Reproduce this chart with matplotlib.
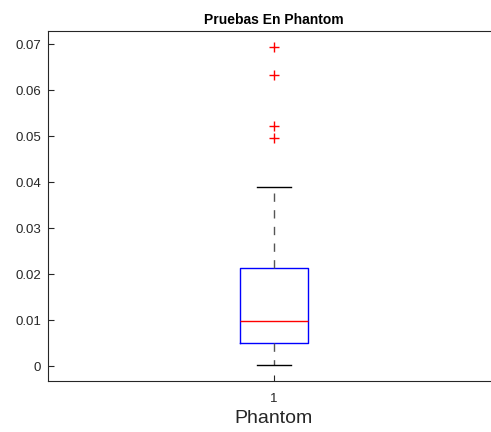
import matplotlib
matplotlib.use('Agg')
import matplotlib.pyplot as plt

plt.rcParams['font.family'] = ['Liberation Sans', 'DejaVu Sans']

# Resumen de la caja (valores ya calculados)
group_labels = ['1']
q1 = 0.0050
median = 0.0098
q3 = 0.0213
whisker_low = 0.0002
whisker_high = 0.0389
outliers = [0.0693, 0.0633, 0.0522, 0.0496]

stats = [{
    'med': median, 'q1': q1, 'q3': q3,
    'whislo': whisker_low, 'whishi': whisker_high,
    'fliers': outliers, 'label': group_labels[0],
}]

fig = plt.figure(figsize=(4.91, 4.32), dpi=100)
ax = fig.add_axes([48 / 491, 51 / 432, 452 / 491, 350 / 432])

ax.bxp(stats, positions=[1], widths=0.15, showfliers=True,
       boxprops=dict(color='#0000ff', linewidth=1.0),
       medianprops=dict(color='#ff0000', linewidth=1.0),
       whiskerprops=dict(color='#555555', linewidth=1.0, linestyle=(0, (6, 6))),
       capprops=dict(color='black', linewidth=1.0),
       flierprops=dict(marker='+', markeredgecolor='#ff0000', markersize=6.5,
                       markeredgewidth=1.0, linestyle='none'),
       capwidths=0.075)

ax.set_xlim(0.5, 1.5)
ax.set_ylim(-0.00326, 0.07283)
ax.set_yticks([0, 0.01, 0.02, 0.03, 0.04, 0.05, 0.06, 0.07])
ax.set_yticklabels(['0', '0.01', '0.02', '0.03', '0.04', '0.05', '0.06', '0.07'])
ax.set_xticks([1])
ax.set_xticklabels(group_labels)

ax.tick_params(direction='in', length=4, width=0.8, colors='#262626',
               labelsize=9.5, pad=5)
ax.tick_params(axis='x', pad=9)
for side in ['left', 'bottom', 'top', 'right']:
    ax.spines[side].set_color('#262626')
    ax.spines[side].set_linewidth(0.8)

ax.set_title('Pruebas En Phantom', fontsize=10, fontweight='bold', pad=5)
ax.set_xlabel('Phantom', fontsize=14, color='#262626', labelpad=3)

fig.savefig('out.png', dpi=100)
